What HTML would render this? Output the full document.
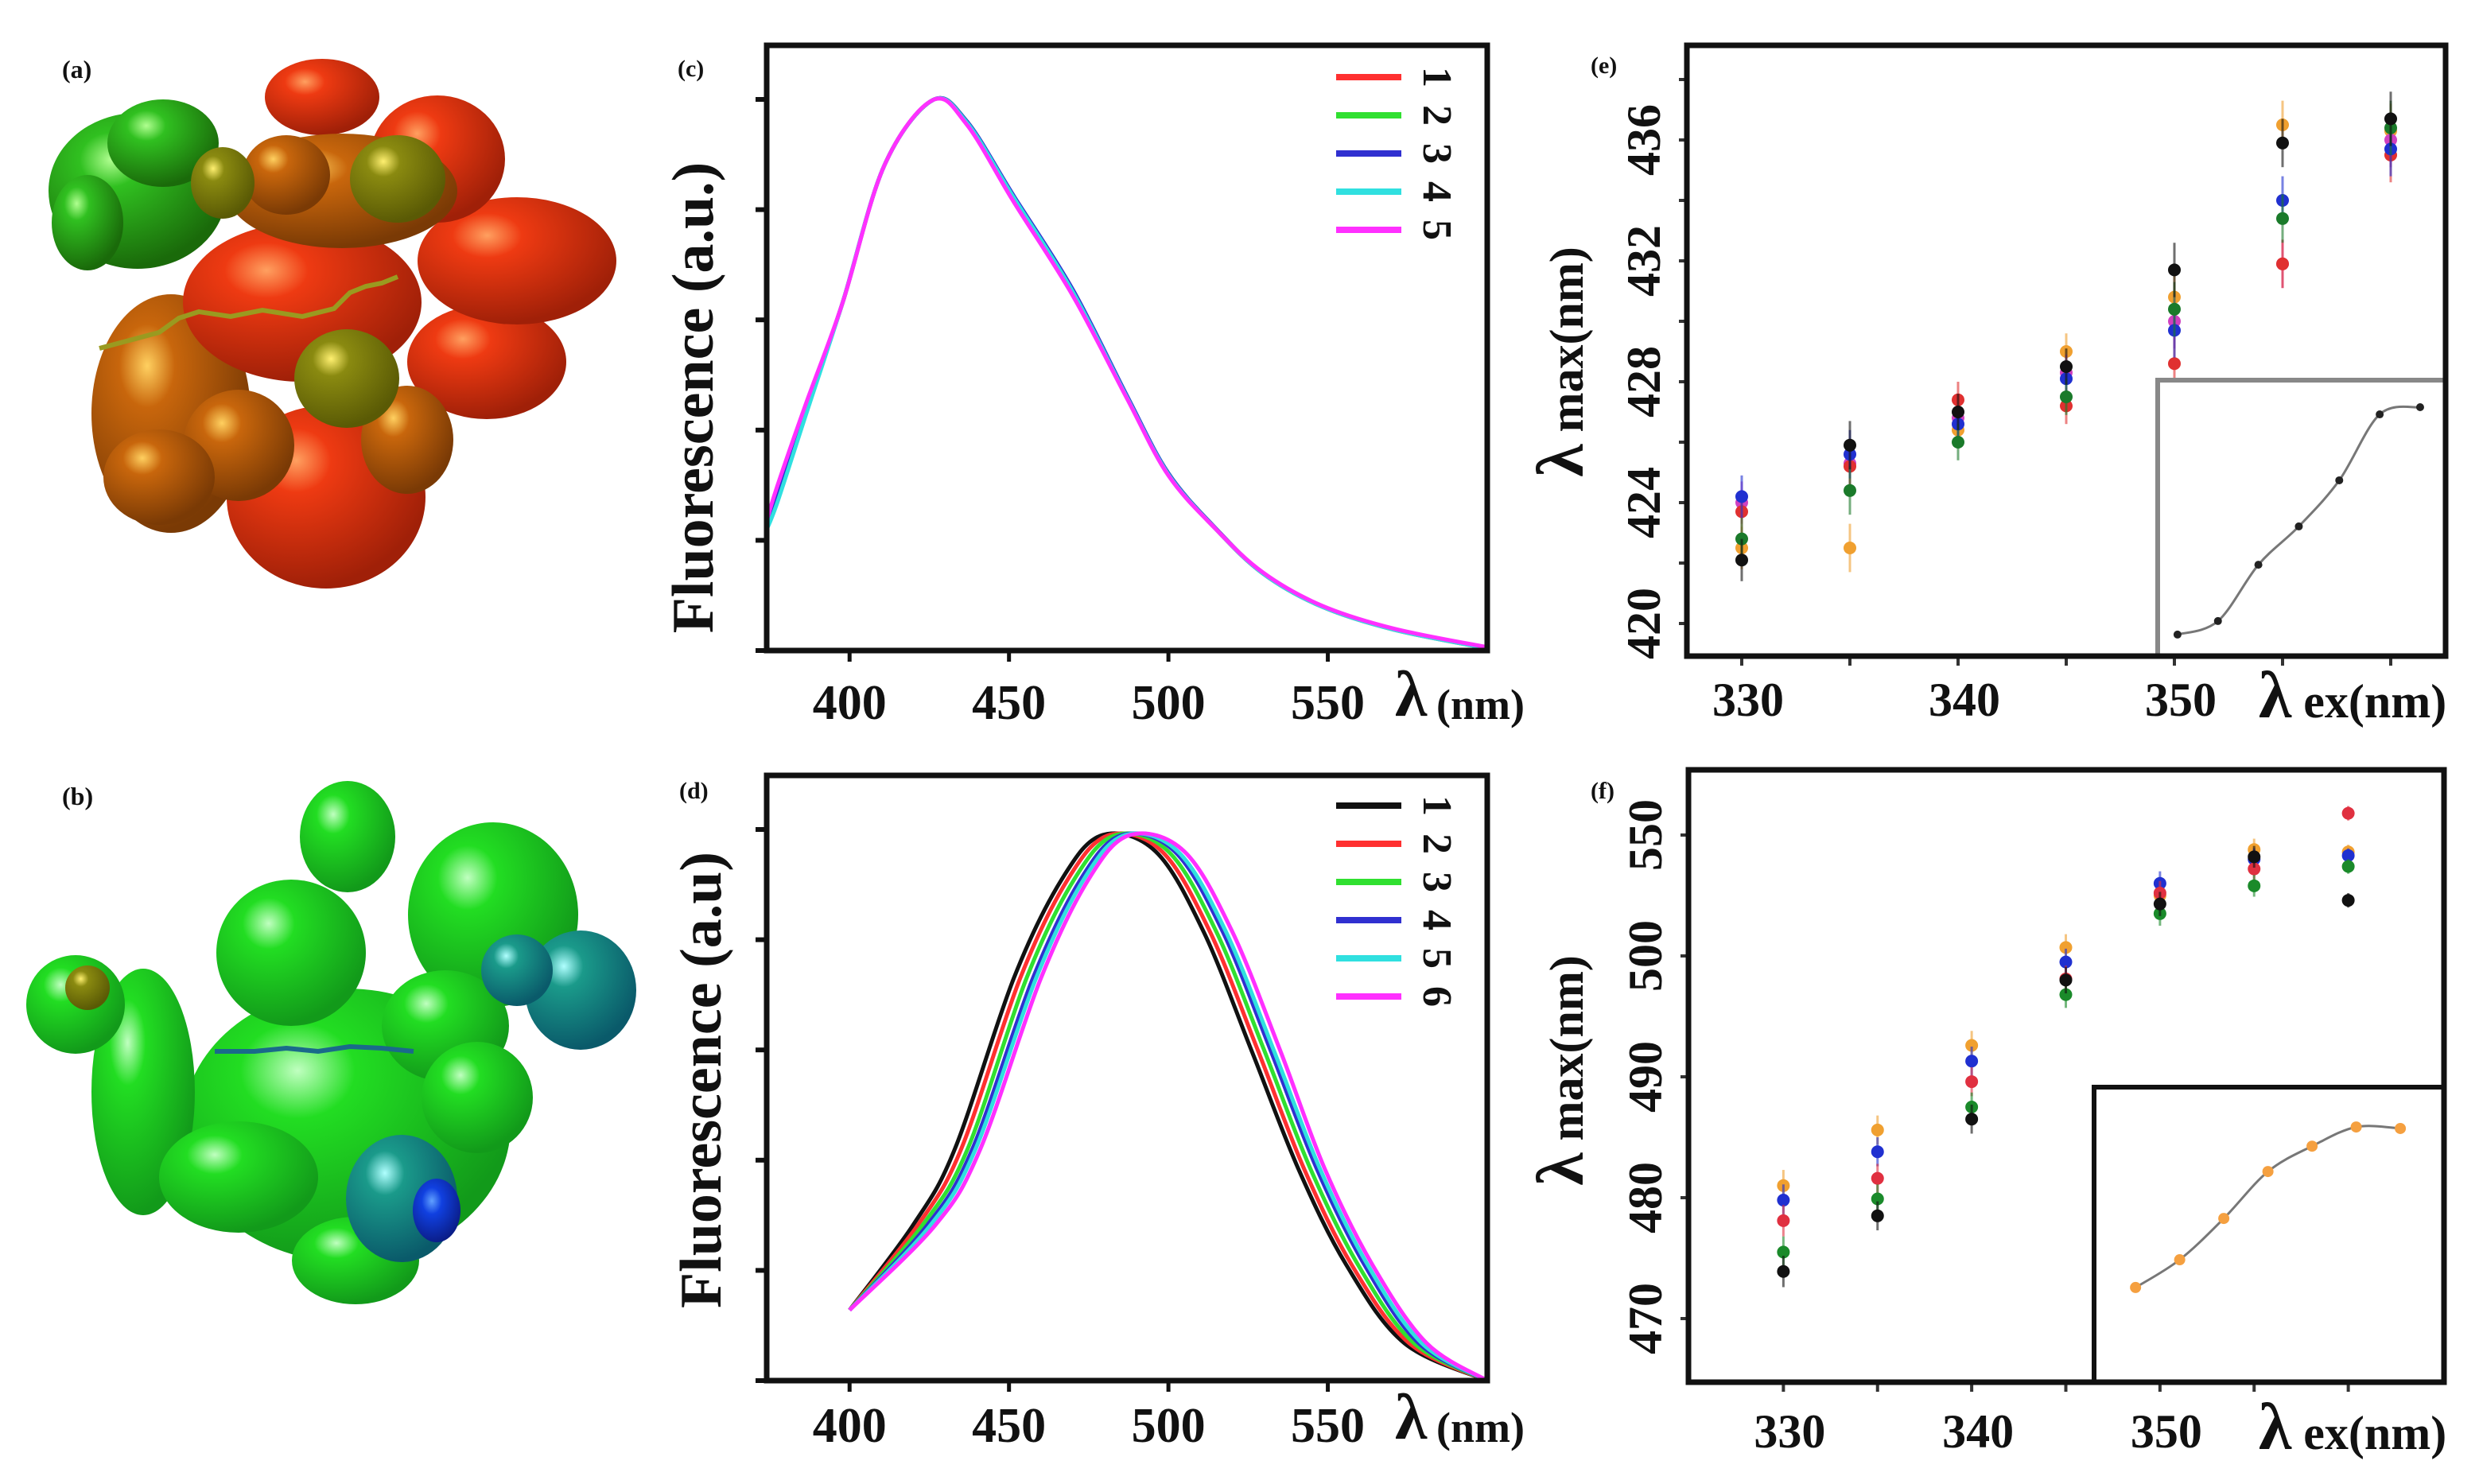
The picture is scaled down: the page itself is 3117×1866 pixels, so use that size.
<!DOCTYPE html>
<html><head><meta charset="utf-8"><style>
html,body{margin:0;padding:0;background:#fff;}
svg{display:block;}
text{font-family:"Liberation Serif",serif;font-weight:bold;fill:#111;}
</style></head><body>
<svg id="fig" width="3117" height="1866" viewBox="0 0 3117 1866" xmlns="http://www.w3.org/2000/svg">
<defs>
<radialGradient id="gRed" cx="35%" cy="30%" r="70%"><stop offset="0" stop-color="#ffa060"/><stop offset="0.25" stop-color="#ee3a12"/><stop offset="1" stop-color="#a02008"/></radialGradient>
<radialGradient id="gOrange" cx="35%" cy="30%" r="70%"><stop offset="0" stop-color="#ffd060"/><stop offset="0.25" stop-color="#c8660c"/><stop offset="1" stop-color="#7a3a05"/></radialGradient>
<radialGradient id="gOlive" cx="35%" cy="30%" r="70%"><stop offset="0" stop-color="#fff070"/><stop offset="0.25" stop-color="#8a8a10"/><stop offset="1" stop-color="#5a5a05"/></radialGradient>
<radialGradient id="gGreenA" cx="35%" cy="30%" r="70%"><stop offset="0" stop-color="#b0ff90"/><stop offset="0.25" stop-color="#30c020"/><stop offset="1" stop-color="#1a6a0a"/></radialGradient>
<radialGradient id="gGreen" cx="35%" cy="30%" r="70%"><stop offset="0" stop-color="#c0ffc0"/><stop offset="0.25" stop-color="#22dd22"/><stop offset="1" stop-color="#129a1a"/></radialGradient>
<radialGradient id="gTeal" cx="35%" cy="30%" r="70%"><stop offset="0" stop-color="#b0ffff"/><stop offset="0.25" stop-color="#1a9a8a"/><stop offset="1" stop-color="#0a5a6a"/></radialGradient>
<radialGradient id="gBlue" cx="40%" cy="35%" r="70%"><stop offset="0" stop-color="#60a0ff"/><stop offset="0.3" stop-color="#1040e0"/><stop offset="1" stop-color="#0a1a80"/></radialGradient>
</defs>
<g id="molA"></g>
<polyline points="125,438 200,418 225,400 250,392 290,398 330,390 380,398 420,388 440,368 460,360 480,356 500,348" fill="none" stroke="#9a9a20" stroke-width="6"/>
<g id="molB"></g>
<polyline points="270,1322 320,1322 360,1318 400,1322 440,1316 480,1318 520,1322" fill="none" stroke="#1a6a8a" stroke-width="6"/>
<text x="78" y="98" font-size="32" fill="#223">(a)</text>
<text x="78" y="1012" font-size="32" fill="#223">(b)</text>
<g id="root"></g>
</svg>
<script>
// ===== Panel (c) data =====
const cWavelength = [374,377.4,386.4,397.7,410.8,426,436.7,451.5,470,487,500,515,529.6,548,570.6,600];
const cSeries1 = [0.236,0.29,0.44,0.63,0.88,1.0,0.958,0.82,0.65,0.46,0.32,0.22,0.14,0.08,0.038,0.004];
const cSeries2 = [0.236,0.29,0.44,0.63,0.88,1.0,0.962,0.825,0.655,0.462,0.322,0.221,0.141,0.081,0.039,0.004];
const cSeries3 = [0.236,0.29,0.44,0.63,0.88,1.0,0.962,0.826,0.656,0.463,0.322,0.221,0.141,0.081,0.039,0.004];
const cSeries4 = [0.22,0.27,0.43,0.63,0.88,1.0,0.96,0.823,0.652,0.46,0.32,0.22,0.14,0.08,0.038,0.004];
const cSeries5 = [0.236,0.3,0.45,0.63,0.88,1.0,0.956,0.815,0.645,0.458,0.318,0.22,0.142,0.082,0.04,0.006];
const cLabels = ["1","2","3","4","5"];
const cColors = ["#ff3030","#30e030","#3030d0","#30e0e0","#ff30ff"];
const specTicks = [400,450,500,550];

// ===== Panel (d) data =====
const dIntensity = [0.128,0.283,0.42,0.73,0.91,0.99,0.96,0.815,0.60,0.385,0.21,0.068,0.0];
const dWl1 = [400,420,433,451.5,466.6,479.4,496,511,526,540.7,555.8,574,600];
const dWl2 = [400,421.5,435,453.5,468.5,481.5,498,513,528,542.5,557.5,575.5,600];
const dWl3 = [400,423,437,455.5,470.5,483.5,500,515,530,544.5,559.5,577,600];
const dWl4 = [400,424.5,438.5,457.5,472.5,485.5,502,517,532,546.5,561.5,578.5,600];
const dWl5 = [400,425.5,439.5,458.5,473.5,486.5,503,518,533,547.5,562.5,579.5,600];
const dWl6 = [400,427,441,460,475,488,505,520,535,549,564,581,600];
const dLabels = ["1","2","3","4","5","6"];
const dColors = ["#111111","#ff3030","#30e030","#3030d0","#30e0e0","#ff30ff"];

// ===== Panel (e) data =====
const exWavelength = [330,335,340,345,350,355,360];
const eBlack = [422.1,425.9,427.0,428.5,431.7,435.9,436.7];
const eRed = [423.7,425.2,427.4,427.2,428.6,431.9,435.5];
const eGreen = [422.8,424.4,426.0,427.5,430.4,433.4,436.4];
const eBlue = [424.2,425.6,426.6,428.1,429.7,434.0,435.7];
const eOrange = [422.5,422.5,426.4,429.0,430.8,436.5,436.3];
const eMagenta = [424.0,425.3,426.8,428.3,430.0,431.9,436.0];
const eErr = [0.7,0.8,0.6,0.6,0.9,0.8,0.9];
const eYTicks = [420,424,428,432,436];
const exTicks = [330,340,350];
const eInsetX = [1,2,3,4,5,6,7];
const eInsetY = [0.78,1.27,3.31,4.70,6.37,8.76,9.02];

// ===== Panel (f) data =====
const fBlack = [473.9,478.5,486.5,498.0,504.3,508.2,504.6];
const fRed = [478.1,481.6,489.6,498.1,505.2,507.2,511.8];
const fGreen = [475.5,479.9,487.5,496.8,503.5,505.8,507.4];
const fBlue = [479.8,483.8,491.3,499.5,506.0,508.0,508.3];
const fOrange = [481.0,485.6,492.6,500.7,505.0,508.8,508.6];
const fErr = [1.3,1.2,1.2,1.1,1.0,0.9,0.6];
const fYTickVals = [470,480,490,500,510];
const fYTickLabels = ["470","480","490","500","550"];
const fInsetX = [1,2,3,4,5,6,7];
const fInsetY = [3.21,4.15,5.55,7.14,8.0,8.65,8.6];

const NS = "http://www.w3.org/2000/svg";
const root = document.getElementById('root');
function el(tag, attrs, parent){
  const e = document.createElementNS(NS, tag);
  for (const k in attrs) e.setAttribute(k, attrs[k]);
  (parent||root).appendChild(e);
  return e;
}
function lin(d0,d1,r0,r1){ return v => r0 + (v-d0)/(d1-d0)*(r1-r0); }
function smoothPath(pts){
  let d = "M"+pts[0][0].toFixed(1)+","+pts[0][1].toFixed(1);
  for (let i=0;i<pts.length-1;i++){
    const p0=pts[Math.max(0,i-1)], p1=pts[i], p2=pts[i+1], p3=pts[Math.min(pts.length-1,i+2)];
    const c1=[p1[0]+(p2[0]-p0[0])/6, p1[1]+(p2[1]-p0[1])/6];
    const c2=[p2[0]-(p3[0]-p1[0])/6, p2[1]-(p3[1]-p1[1])/6];
    d += "C"+c1[0].toFixed(1)+","+c1[1].toFixed(1)+" "+c2[0].toFixed(1)+","+c2[1].toFixed(1)+" "+p2[0].toFixed(1)+","+p2[1].toFixed(1);
  }
  return d;
}

// ----- molecules (decorative) -----
function blob(gid, list){
  const g = document.getElementById(gid);
  list.forEach(b => {
    const c = el('ellipse', {cx:b[0], cy:b[1], rx:b[2], ry:b[3]||b[2], fill:'url(#'+b[4]+')'}, g);
    
    
  });
}
blob('molA', [
  [410,625,125,115,'gRed'],[215,520,100,150,'gOrange'],[612,455,100,72,'gRed'],
  [380,380,150,100,'gRed'],[650,328,125,80,'gRed'],[550,200,85,80,'gRed'],[405,122,72,48,'gRed'],
  [512,553,58,68,'gOrange'],[436,476,66,62,'gOlive'],[300,560,70,70,'gOrange'],[200,600,70,60,'gOrange'],
  [430,240,145,72,'gOrange'],[500,225,60,55,'gOlive'],[360,220,55,50,'gOrange'],
  [173,240,112,98,'gGreenA'],[205,180,70,55,'gGreenA'],[110,280,45,60,'gGreenA'],[280,230,40,45,'gOlive']
]);
blob('molB', [
  [436,1415,206,172,'gGreen'],[180,1373,65,155,'gGreen'],[95,1263,62,62,'gGreen'],[110,1242,28,28,'gOlive'],
  [366,1198,94,92,'gGreen'],[437,1052,60,70,'gGreen'],[620,1150,107,116,'gGreen'],[560,1290,80,70,'gGreen'],
  [600,1380,70,70,'gGreen'],[730,1245,70,75,'gTeal'],[650,1220,45,45,'gTeal'],
  [447,1585,80,55,'gGreen'],[505,1507,70,80,'gTeal'],[549,1522,30,40,'gBlue'],
  [300,1480,100,70,'gGreen']
]);

// ----- spectrum panels -----
function spectrumPanel(o){
  const L=964,R=1870,T=o.top,B=o.bottom;
  const g = el('g',{});
  
  
  const x = lin(374,600,L,R);
  const y = lin(0,1,B,o.peakY);
  for (let i=0;i<o.yTickCount;i++){
    const ty = B - i*o.yTickStep;
    const t = el('line',{x1:L-14,x2:L,y1:ty,y2:ty,stroke:'#111','stroke-width':6},g);
    
    
  }
  specTicks.forEach(v=>{
    const t = el('line',{x1:x(v),x2:x(v),y1:B,y2:B+14,stroke:'#111','stroke-width':5},g);
    
    
    const lb = el('text',{x:x(v),y:o.tickBase,'font-size':62,'text-anchor':'middle'},g);
    lb.textContent = v;
    
    
  });
  o.series.forEach((s,i)=>{
    const pts = s.x.map((v,j)=>[x(v), y(s.y[j])]);
    const p = el('path',{d:smoothPath(pts),fill:'none',stroke:o.colors[i],'stroke-width':5,'stroke-linejoin':'round'},g);
    
    
  });
  const fr = el('rect',{x:L,y:T,width:R-L,height:B-T,fill:'none',stroke:'#111','stroke-width':7},g);
  
  
  o.labels.forEach((lbl,i)=>{
    const ly = o.legendY + i*o.legendStep;
    const ln = el('line',{x1:1680,x2:1762,y1:ly,y2:ly,stroke:o.colors[i],'stroke-width':8},g);
    
    
    const tx = el('text',{x:0,y:0,'font-size':52,'text-anchor':'middle',transform:'translate(1790,'+ly+') rotate(90)'},g);
    tx.textContent = lbl;
    
    
  });
  const yl = el('text',{x:0,y:0,'font-size':74,'text-anchor':'middle',transform:'translate('+o.ylabX+','+o.ylabY+') rotate(-90)'},g);
  yl.textContent = o.ylabel;
  
  
  const xl = el('text',{x:1754,y:o.tickBase-4,'font-size':82},g);
  xl.textContent = 'λ';
  
  
  const xl2 = el('text',{x:1806,y:o.tickBase,'font-size':54},g);
  xl2.textContent = '(nm)';
  
  
  const pl = el('text',{x:o.plX,y:o.plY,'font-size':30,fill:'#223'},g);
  pl.textContent = o.panel;
  
  
}
spectrumPanel({name:'panel-c-spectra',panel:'(c)',top:57,bottom:818,peakY:126,yTickCount:6,yTickStep:138.6,tickBase:904,
  series:[{x:cWavelength,y:cSeries1},{x:cWavelength,y:cSeries2},{x:cWavelength,y:cSeries3},{x:cWavelength,y:cSeries4},{x:cWavelength,y:cSeries5}],
  colors:cColors,labels:cLabels,legendY:97,legendStep:48,ylabel:'Fluorescence (a.u.)',ylabX:896,ylabY:500,plX:852,plY:96});
spectrumPanel({name:'panel-d-spectra',panel:'(d)',top:975,bottom:1736,peakY:1043,yTickCount:6,yTickStep:138.6,tickBase:1813,
  series:[{x:dWl1,y:dIntensity},{x:dWl2,y:dIntensity},{x:dWl3,y:dIntensity},{x:dWl4,y:dIntensity},{x:dWl5,y:dIntensity},{x:dWl6,y:dIntensity}],
  colors:dColors,labels:dLabels,legendY:1013,legendStep:48,ylabel:'Fluorescence (a.u)',ylabX:906,ylabY:1358,plX:854,plY:1004});

// ----- scatter panels -----
function scatterPanel(o){
  const g = el('g',{});
  
  
  const x = lin(o.xd[0],o.xd[1],o.L,o.R);
  const y = lin(o.yd[0],o.yd[1],o.B,o.T);
  o.yMinor.forEach(v=>{
    const t = el('line',{x1:o.L-10,x2:o.L,y1:y(v),y2:y(v),stroke:'#333','stroke-width':4},g);
    
    
  });
  o.yTickVals.forEach((v,i)=>{
    const lb = el('text',{x:0,y:0,'font-size':60,'text-anchor':'middle',transform:'translate('+(o.L-34)+','+y(v)+') rotate(-90)'},g);
    lb.textContent = o.yTickLabels[i];
    
    
  });
  exWavelength.forEach(v=>{
    const t = el('line',{x1:x(v),x2:x(v),y1:o.B,y2:o.B+12,stroke:'#333','stroke-width':4},g);
    
    
  });
  exTicks.forEach(v=>{
    const lb = el('text',{x:x(v)+8,y:o.tickBase,'font-size':60,'text-anchor':'middle'},g);
    lb.textContent = v;
    
    
  });
  o.series.forEach(s=>{
    exWavelength.forEach((xv,j)=>{
      const cx = x(xv), cy = y(s.v[j]), e = o.err[j];
      const eb = el('line',{x1:cx,x2:cx,y1:y(s.v[j]+e),y2:y(s.v[j]-e),stroke:s.c,'stroke-width':3,opacity:0.6},g);
      
      
      const pt = el('circle',{cx:cx,cy:cy,r:8,fill:s.c},g);
      
      
    });
  });
  const ix = lin(o.inXd[0],o.inXd[1],o.inL,o.R);
  const iy = lin(0,10,o.B,o.inT);
  const ib = el('rect',{x:o.inL,y:o.inT,width:o.R-o.inL,height:o.B-o.inT,fill:'#fff',stroke:o.inStroke,'stroke-width':6},g);
  
  
  const ipts = o.inX.map((v,j)=>[ix(v), iy(o.inY[j])]);
  const ip = el('path',{d:smoothPath(ipts),fill:'none',stroke:'#777','stroke-width':3},g);
  
  
  ipts.forEach(p=>{
    const c = el('circle',{cx:p[0],cy:p[1],r:o.inR,fill:o.inPt},g);
    
    
  });
  const fr = el('rect',{x:o.L,y:o.T,width:o.R-o.L,height:o.B-o.T,fill:'none',stroke:'#111','stroke-width':7},g);
  
  
  const yl = el('text',{x:0,y:0,'font-size':60,'text-anchor':'middle',transform:'translate(1990,'+o.ylabY+') rotate(-90)'},g);
  yl.innerHTML = '<tspan font-size="84">λ</tspan> max(nm)';
  
  
  const xl = el('text',{x:2840,y:o.tickBase+2,'font-size':60},g);
  xl.innerHTML = '<tspan font-size="84">λ</tspan> ex(nm)';
  
  
  const pl = el('text',{x:2000,y:o.plY,'font-size':30,fill:'#223'},g);
  pl.textContent = o.panel;
  
  
}
scatterPanel({name:'panel-e-scatter',panel:'(e)',L:2121,R:3075,T:57,B:825,xd:[330-69/27.2,360+69/27.2],yd:[420-41/38,420+(784-57)/38],
  yMinor:[420,422,424,426,428,430,432,434,436,438],yTickVals:eYTicks,yTickLabels:eYTicks.map(String),tickBase:900,
  series:[{n:'orange',c:'#f0a030',v:eOrange},{n:'magenta',c:'#d040c0',v:eMagenta},{n:'red',c:'#e03030',v:eRed},{n:'blue',c:'#2030d0',v:eBlue},{n:'green',c:'#1a7a2a',v:eGreen},{n:'black',c:'#111',v:eBlack}],
  err:eErr,inL:2713,inT:478,inXd:[0.51,7.63],inX:eInsetX,inY:eInsetY,inR:5,inPt:'#222',inStroke:'#888',ylabY:455,plY:92});
scatterPanel({name:'panel-f-scatter',panel:'(f)',L:2123,R:3073,T:968,B:1738,xd:[330-119/23.6,360+120/23.6],yd:[470-80/15.2,470+690/15.2],
  yMinor:fYTickVals,yTickVals:fYTickVals,yTickLabels:fYTickLabels,tickBase:1820,
  series:[{n:'orange',c:'#f0a030',v:fOrange},{n:'blue',c:'#2030d0',v:fBlue},{n:'red',c:'#e03040',v:fRed},{n:'green',c:'#1a8a2a',v:fGreen},{n:'black',c:'#111',v:fBlack}],
  err:fErr,inL:2633,inT:1367,inXd:[0.06,7.99],inX:fInsetX,inY:fInsetY,inR:7,inPt:'#f5a040',inStroke:'#111',ylabY:1346,plY:1004});
</script>
</body></html>
